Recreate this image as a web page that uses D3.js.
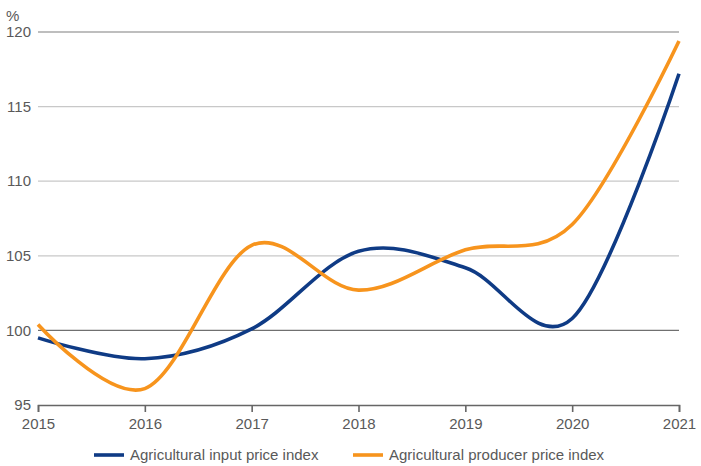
<!DOCTYPE html>
<html><head><meta charset="utf-8">
<script src="https://cdn.jsdelivr.net/npm/d3@7"></script>
<style>body{margin:0;background:#fff}svg{display:block;font-family:"Liberation Sans",Arial,sans-serif}</style>
</head><body><svg id="c" width="701" height="466"></svg>
<script>
const years = [2015, 2016, 2017, 2018, 2019, 2020, 2021];
const inputIndex = [99.5, 98.1, 100.1, 105.3, 104.2, 100.8, 117.2];
const producerIndex = [100.4, 96.1, 105.7, 102.7, 105.4, 107.1, 119.4];
const yTicks = [95, 100, 105, 110, 115, 120];
const seriesNames = ["Agricultural input price index", "Agricultural producer price index"];
const seriesColors = ["#0f3b85", "#f7941d"];

const svg = d3.select("#c");
const x = d3.scaleLinear().domain([2015, 2021]).range([38, 679]);
const y = d3.scaleLinear().domain([95, 120]).range([405, 32]);
const textCol = "#595959";

// gridlines
svg.append("g").selectAll("line").data(yTicks.filter(d => d !== 95)).join("line")
  .attr("x1", x(2015)).attr("x2", x(2021))
  .attr("y1", d => y(d)).attr("y2", d => y(d))
  .attr("stroke", d => d === 100 ? "#707070" : (d === 120 ? "#a8a8a8" : "#c8c8c8"))
  .attr("stroke-width", 1.3);

// y labels
svg.append("g").selectAll("text").data(yTicks).join("text")
  .attr("x", 31).attr("y", d => y(d)).attr("dy", "0.35em")
  .attr("text-anchor", "end").attr("font-size", 15).attr("fill", textCol)
  .text(d => d);
svg.append("text").attr("x", 6).attr("y", 21).attr("font-size", 15).attr("fill", textCol).text("%");

// x axis
const xAxis = d3.axisBottom(x).tickValues(years).tickFormat(d3.format("d")).tickSize(7).tickPadding(6);
const ax = svg.append("g").attr("transform", `translate(0,${y(95)})`).call(xAxis);
ax.select(".domain").attr("stroke", "#666").attr("stroke-width", 1.6);
ax.selectAll(".tick line").attr("stroke", "#666").attr("stroke-width", 1.6);
ax.selectAll(".tick text").attr("font-size", 15).attr("fill", textCol).attr("font-family", "Liberation Sans, Arial, sans-serif");

// lines
const line = d3.line().x((d, i) => x(years[i])).y(d => y(d)).curve(d3.curveCardinal.tension(0));
[inputIndex, producerIndex].forEach((s, i) => {
  svg.append("path").datum(s).attr("d", line).attr("fill", "none")
    .attr("stroke", seriesColors[i]).attr("stroke-width", 3.6).attr("stroke-linecap", "butt");
});

// legend
const legX = [94, 353];
seriesNames.forEach((n, i) => {
  const g = svg.append("g").attr("transform", `translate(${legX[i]},455)`);
  g.append("line").attr("x1", 0).attr("x2", 30).attr("y1", 0).attr("y2", 0)
    .attr("stroke", seriesColors[i]).attr("stroke-width", 3.6);
  g.append("text").attr("x", 36).attr("y", 0).attr("dy", "0.35em")
    .attr("font-size", 15).attr("fill", textCol).text(n);
});
</script></body></html>
